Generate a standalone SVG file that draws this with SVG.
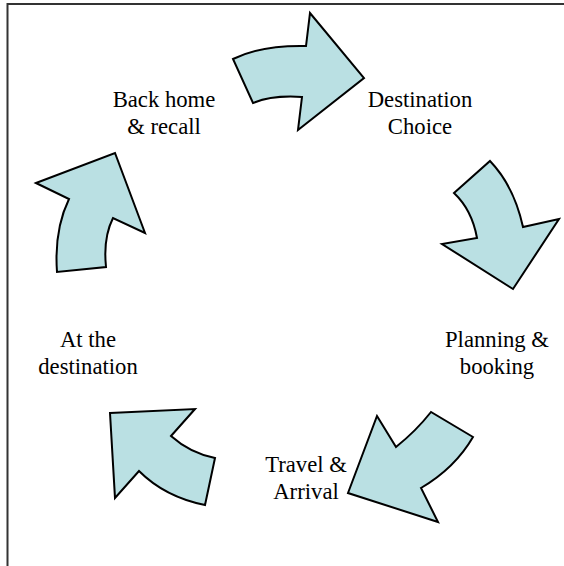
<svg xmlns="http://www.w3.org/2000/svg" width="564" height="566" viewBox="0 0 564 566">
<style>
.arr{fill:#BAE0E3;stroke:#000;stroke-width:2;stroke-linejoin:miter}
.t{font-family:"Liberation Serif","Times New Roman",serif;font-size:22.7px;fill:#000;text-anchor:middle}
.frame{fill:none;stroke:#333;stroke-width:2}
</style>
<rect width="564" height="566" fill="#fff"/>
<path class="frame" d="M7.5,566 V4 H564"/>
<g id="connectors">
<path id="arrow1" class="arr" d="M233,59 Q262,45 306,46 L310,13 L364,78 L298,130 L302,97 Q272,95 253,103 Z"/>
<path id="arrow2" class="arr" d="M454,193 L490,161 Q514,186 523,227 L559,219 L513,289 L442,244 L477,238 Q472,210 454,193 Z"/>
<path id="arrow3" class="arr" d="M377,416 L396,447 Q416,431 431,412 L473,437 Q455,468 421,488 L438,522 L348,493 Z"/>
<path id="arrow4" class="arr" d="M110,413 L195,409 L171,436 Q190,453 215,458 L205,505 Q165,497 139,471 L115,498 Z"/>
<path id="arrow5" class="arr" d="M36,183 L115,153 L145,233 L113,218 Q103,238 106,267 L57,272 Q54,230 69,199 Z"/>
</g>
<g id="n1"><text class="t" x="420" y="107">Destination</text><text class="t" x="420" y="134">Choice</text></g>
<g id="n2"><text class="t" x="497" y="347">Planning &amp;</text><text class="t" x="497" y="374">booking</text></g>
<g id="n3"><text class="t" x="306" y="472">Travel &amp;</text><text class="t" x="306" y="499">Arrival</text></g>
<g id="n4"><text class="t" x="88" y="347">At the</text><text class="t" x="88" y="374">destination</text></g>
<g id="n5"><text class="t" x="164" y="107">Back home</text><text class="t" x="164" y="134">&amp; recall</text></g>
</svg>
